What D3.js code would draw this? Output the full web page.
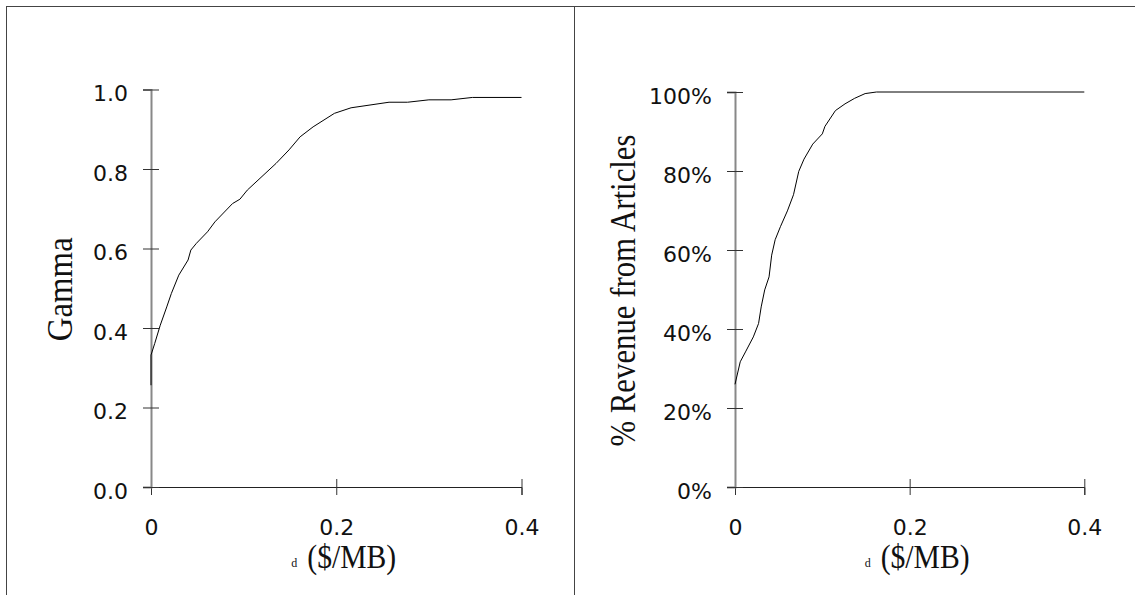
<!DOCTYPE html>
<meta charset="utf-8">
<style>
body { margin: 0; background: #fff; }
text { font-family: "DejaVu Sans", Verdana, sans-serif; fill: #111; }
.title { font-family: "Liberation Serif", "Times New Roman", serif; }
.curve { fill: none; stroke: #000; stroke-width: 1px; }
</style>
<svg width="1135" height="595"></svg>
<script src="https://d3js.org/d3.v7.min.js"></script>
<script>

// left panel: Gamma vs d
var leftDelta = [0, 0, 0.004, 0.010, 0.017, 0.022, 0.030, 0.040, 0.043, 0.049, 0.061, 0.069,
                 0.088, 0.096, 0.104, 0.135, 0.149, 0.161, 0.175, 0.198, 0.216, 0.257,
                 0.277, 0.300, 0.324, 0.347, 0.400];
var leftGamma = [0.256, 0.332, 0.361, 0.407, 0.453, 0.487, 0.533, 0.571, 0.596, 0.613, 0.642, 0.667,
                 0.713, 0.724, 0.747, 0.814, 0.848, 0.881, 0.906, 0.940, 0.954, 0.968,
                 0.968, 0.974, 0.974, 0.980, 0.980];

// right panel: share of revenue from articles vs d
var rightDelta = [0, 0.006, 0.012, 0.021, 0.027, 0.030, 0.034, 0.039, 0.042, 0.046, 0.052, 0.060,
                  0.067, 0.073, 0.079, 0.089, 0.100, 0.103, 0.115, 0.126, 0.137, 0.149, 0.162, 0.400];
var rightShare = [0.26, 0.317, 0.342, 0.380, 0.414, 0.456, 0.499, 0.532, 0.587, 0.626, 0.659, 0.699,
                  0.740, 0.799, 0.830, 0.868, 0.894, 0.913, 0.953, 0.970, 0.984, 0.996, 1.0, 1.0];

var xTicks = [0, 0.2, 0.4];
var gammaTicks = [0, 0.2, 0.4, 0.6, 0.8, 1.0];
var shareTicks = [0, 0.2, 0.4, 0.6, 0.8, 1.0];

var svg = d3.select("svg");

// panel frames
svg.append("rect").attr("x", 6.5).attr("y", 6.5).attr("width", 568).attr("height", 620)
    .attr("fill", "none").attr("stroke", "#444");
svg.append("rect").attr("x", 574.5).attr("y", 6.5).attr("width", 600).attr("height", 620)
    .attr("fill", "none").attr("stroke", "#444");

function panel(opts) {
  var x = d3.scaleLinear().domain([0, 0.4]).range([opts.x0, opts.x1]);
  var y = d3.scaleLinear().domain([0, 1]).range([487, opts.yTop]);
  var g = svg.append("g");

  // x axis
  var gx = g.append("g")
      .attr("transform", "translate(0,487)")
      .call(d3.axisBottom(x).tickValues(xTicks).tickFormat(d3.format("~g"))
              .tickSizeOuter(0).tickSize(8).tickPadding(24));
  gx.select(".domain").attr("stroke", "#222");
  gx.selectAll(".tick line").attr("y1", -8).attr("y2", 8).attr("stroke", "#333");
  gx.selectAll("text").style("font-size", "22px").attr("fill", "#111");

  // y axis
  var gy = g.append("g")
      .attr("transform", "translate(" + opts.x0 + ",0)")
      .call(d3.axisLeft(y).tickValues(opts.ticks).tickFormat(opts.fmt)
              .tickSizeOuter(0).tickSize(8).tickPadding(15));
  gy.select(".domain").attr("stroke", "#888").attr("stroke-width", 2);
  gy.selectAll(".tick line").attr("x1", -8).attr("x2", 8).attr("stroke", "#333");
  gy.selectAll("text").style("font-size", "22px").attr("dy", "0.52em").attr("fill", "#111");

  // curve
  var pts = d3.zip(opts.xs, opts.ys);
  g.append("path")
      .attr("class", "curve")
      .attr("d", d3.line().x(function(d) { return x(d[0]); }).y(function(d) { return y(d[1]); })(pts));

  // y title
  g.append("text")
      .attr("class", "title")
      .attr("transform", "translate(" + opts.titleX + "," + ((487 + opts.yTop) / 2 + 1) + ") rotate(-90)")
      .attr("text-anchor", "middle")
      .attr("textLength", opts.titleLen)
      .attr("lengthAdjust", "spacingAndGlyphs")
      .style("font-size", "36px")
      .attr("fill", "#000")
      .text(opts.title);

  // x title
  var cx = (opts.x0 + opts.x1) / 2 - 45;
  g.append("text")
      .attr("class", "title")
      .attr("x", cx).attr("y", 567)
      .style("font-size", "12px")
      .attr("fill", "#000")
      .text("d");
  g.append("text")
      .attr("class", "title")
      .attr("x", cx + 16).attr("y", 568)
      .attr("textLength", 89)
      .attr("lengthAdjust", "spacingAndGlyphs")
      .style("font-size", "34px")
      .attr("fill", "#000")
      .text("($/MB)");
}

panel({ x0: 151, x1: 521.5, yTop: 89.5, xs: leftDelta, ys: leftGamma,
        ticks: gammaTicks, fmt: d3.format(".1f"),
        title: "Gamma", titleX: 72, titleLen: 104 });

panel({ x0: 735, x1: 1084.3, yTop: 92, xs: rightDelta, ys: rightShare,
        ticks: shareTicks, fmt: d3.format(".0%"),
        title: "% Revenue from Articles", titleX: 635, titleLen: 312 });

</script>
